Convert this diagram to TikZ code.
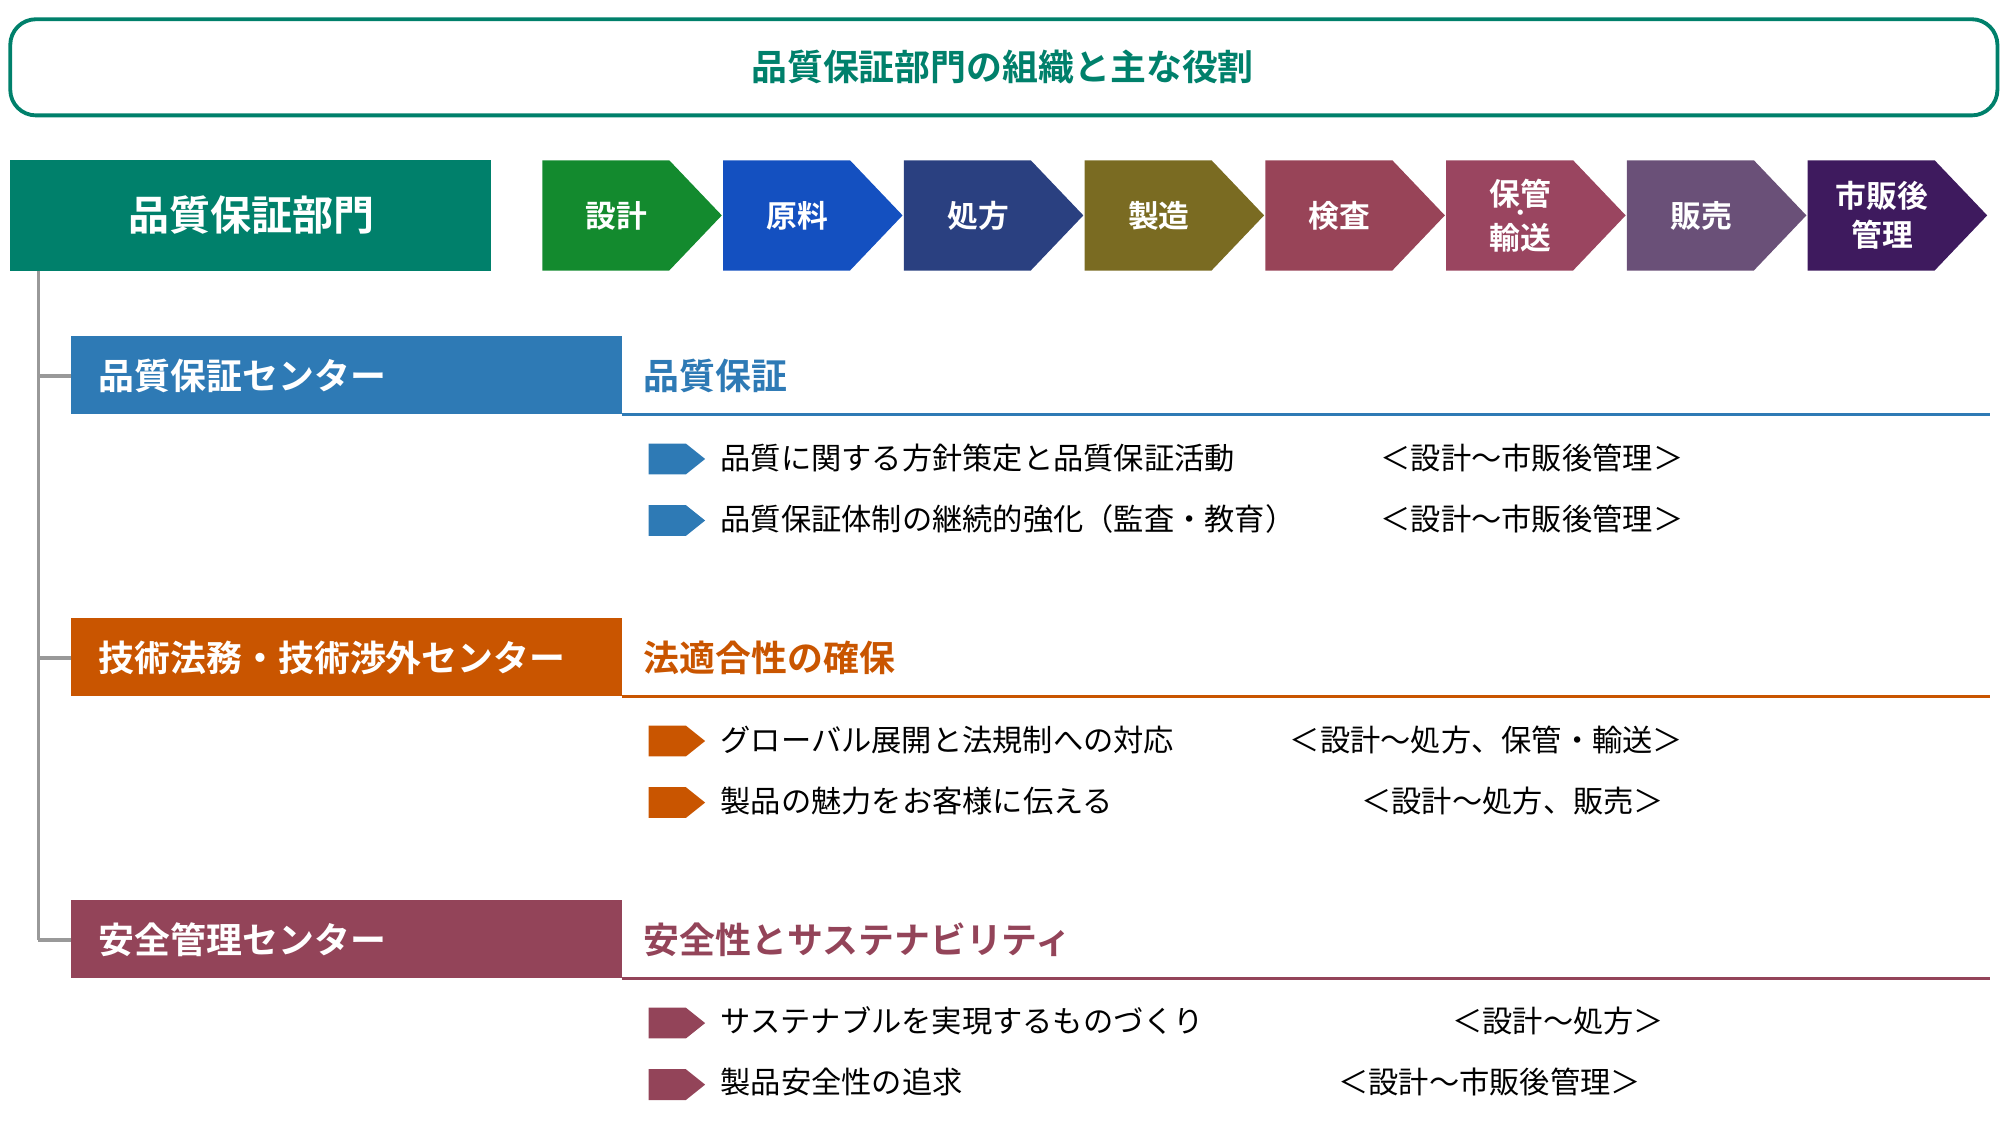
\documentclass[tikz,border=0pt]{standalone}
\usepackage{fontspec}
\setmainfont{Noto Sans CJK JP}
\newfontfamily\jpbold{Noto Sans CJK JP Bold}
\usetikzlibrary{positioning}

\definecolor{qaTeal}{HTML}{00806B}
\definecolor{qaBlue}{HTML}{2E7AB5}
\definecolor{qaOrange}{HTML}{C95500}
\definecolor{qaRose}{HTML}{934459}
\definecolor{qaGray}{HTML}{999999}
\definecolor{stGreen}{HTML}{138A2E}
\definecolor{stBlue}{HTML}{1450C0}
\definecolor{stNavy}{HTML}{2A4080}
\definecolor{stOlive}{HTML}{7A6B22}
\definecolor{stRed}{HTML}{984458}
\definecolor{stPlum}{HTML}{9A4560}
\definecolor{stMauve}{HTML}{6A5078}
\definecolor{stPurple}{HTML}{3E1A5E}

\tikzset{
  headbox/.style={anchor=west, text=white, font=\jpbold\fontsize{14}{16}\selectfont},
  headtitle/.style={anchor=west, font=\jpbold\fontsize{14}{16}\selectfont},
  itemtext/.style={anchor=west, font=\fontsize{11.8}{14}\selectfont},
  rangetext/.style={anchor=east, font=\fontsize{11.8}{14}\selectfont},
  steptext/.style={text=white, align=center, font=\jpbold\fontsize{12}{15}\selectfont}
}

\begin{document}
\begin{tikzpicture}[x=0.5pt, y=-0.5pt]
    \useasboundingbox (0,0) rectangle (1560,889);

    % Title
    \draw[qaTeal, line width=1.5pt, rounded corners=10pt] (8,15) rectangle (1558,90);
    \node[text=qaTeal, font=\jpbold\fontsize{14}{16}\selectfont] (title) at (782,52) {品質保証部門の組織と主な役割};

    % Department box
    \fill[qaTeal] (8,125) rectangle (383,211);
    \node[text=white, font=\jpbold\fontsize{16}{18}\selectfont] (dept) at (196,168) {品質保証部門};

    % Process chevrons
    \foreach \i/\lab/\col in {0/設計/stGreen, 1/原料/stBlue, 2/処方/stNavy, 3/製造/stOlive,
        4/検査/stRed, 5/{保管\\[2pt]輸送}/stPlum, 6/販売/stMauve, 7/{市販後\\管理}/stPurple} {
      \pgfmathsetmacro{\xs}{423+141*\i}
      \fill[\col] (\xs,125) -- ++(99,0) -- ++(41,43) -- ++(-41,43) -- ++(-99,0) -- cycle;
      \node[steptext] (step\i) at (\xs+58,168) {\lab};
    }
    \node[text=white, font=\jpbold\fontsize{8}{8}\selectfont] (stepdot) at (step5.center) {・};

    % Tree
    \coordinate (treeTop) at (30,211);
    \coordinate (treeBot) at (30,733);
    \draw[qaGray, line width=1.5pt] (treeTop) -- (treeBot);

    % Sections
    \foreach \y/\col/\name/\head [count=\k] in {
        262/qaBlue/品質保証センター/品質保証,
        482/qaOrange/技術法務・技術渉外センター/法適合性の確保,
        702/qaRose/安全管理センター/安全性とサステナビリティ} {
      \fill[\col] (55,\y) rectangle (485,\y+61);
      \draw[qaGray, line width=1.5pt] (30,\y+31) -- (55,\y+31);
      \draw[\col, line width=1.2pt] (485,\y+61) -- (1552,\y+61);
      \node[headbox] (center\k) at (70,\y+31) {\name};
      \node[headtitle, text=\col] (task\k) at (495,\y+31) {\head};
      \foreach \d in {0,48} {
        \fill[\col] (506,\y+84+\d) -- (535,\y+84+\d) -- (550,\y+96+\d) -- (535,\y+108+\d) -- (506,\y+108+\d) -- cycle;
      }
    }

    % Items
    \node[itemtext] (item1a) at (555,357) {品質に関する方針策定と品質保証活動};
    \node[rangetext] (range1a) at (1320,357) {＜設計～市販後管理＞};
    \node[itemtext] (item1b) at (555,405) {品質保証体制の継続的強化（監査・教育）};
    \node[rangetext] (range1b) at (1320,405) {＜設計～市販後管理＞};
    \node[itemtext] (item2a) at (555,577) {グローバル展開と法規制への対応};
    \node[rangetext] (range2a) at (1320,577) {＜設計～処方、保管・輸送＞};
    \node[itemtext] (item2b) at (555,625) {製品の魅力をお客様に伝える};
    \node[rangetext] (range2b) at (1305,625) {＜設計～処方、販売＞};
    \node[itemtext] (item3a) at (555,796) {サステナブルを実現するものづくり};
    \node[rangetext] (range3a) at (1305,796) {＜設計～処方＞};
    \node[itemtext] (item3b) at (555,844) {製品安全性の追求};
    \node[rangetext] (range3b) at (1287,844) {＜設計～市販後管理＞};
\end{tikzpicture}
\end{document}
